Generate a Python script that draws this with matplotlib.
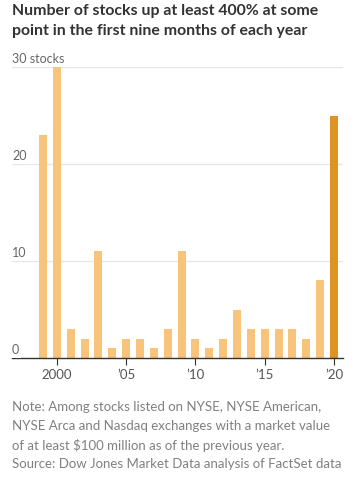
"""
Bar chart: number of stocks up at least 400% in the first nine months of each year.
"""

import numpy as np
import matplotlib.pyplot as plt
from matplotlib.transforms import blended_transform_factory

# Data
years = list(range(1999, 2021))
stocks = [23, 30, 3, 2, 11, 1, 2, 2, 1, 3, 11, 2, 1, 2, 5, 3, 3, 3, 3, 2, 8, 25]
xtick_years = [2000, 2005, 2010, 2015, 2020]
xtick_labels = ['2000', '\u201905', '\u201910', '\u201915', '\u201920']
ytick_values = [0, 10, 20, 30]
ytick_labels = ['0', '10', '20', '30 stocks']

title = "Number of stocks up at least 400% at some\npoint in the first nine months of each year"
note = ("Note: Among stocks listed on NYSE, NYSE American,\n"
        "NYSE Arca and Nasdaq exchanges with a market value\n"
        "of at least $100 million as of the previous year.\n"
        "Source: Dow Jones Market Data analysis of FactSet data")

LIGHT = '#F8C47C'
DARK = '#DE9421'

plt.rcParams['font.family'] = ['Lato', 'DejaVu Sans']

W, H = 364, 488
fig = plt.figure(figsize=(W / 100, H / 100), dpi=100)
ax = fig.add_axes([12 / W, (H - 358) / H, (343 - 12) / W, (358 - 67) / H])

colors = [DARK if y == 2020 else LIGHT for y in years]
ax.bar(years, stocks, width=0.58, color=colors, zorder=2)

ax.set_xlim(1996.76, 2020.65)
ax.set_ylim(0, 30)

# gridlines and y labels sitting on them
trans = blended_transform_factory(ax.transAxes, ax.transData)
for v, lab in zip(ytick_values, ytick_labels):
    if v > 0:
        ax.axhline(v, color='#E6E6E6', lw=0.9, zorder=1)
    ax.text(0, v + 0.25, lab, transform=trans, ha='left', va='bottom',
            fontsize=9, color='#666666', zorder=3,
            bbox=dict(facecolor='white', edgecolor='none', pad=1.5))

for s in ['top', 'right', 'left']:
    ax.spines[s].set_visible(False)
ax.spines['bottom'].set_color('#333333')
ax.spines['bottom'].set_linewidth(1.0)
ax.set_yticks([])
ax.set_xticks(xtick_years)
ax.set_xticklabels(xtick_labels)
ax.tick_params(axis='x', length=5, width=0.8, color='#333333',
               labelsize=9.5, labelcolor='#555555', pad=3)

fig.text(12 / W, 1 - 4 / H, title, ha='left', va='top', fontsize=11.4,
         fontweight='bold', color='#333333', linespacing=1.52)
fig.text(12 / W, 1 - 401 / H, note, ha='left', va='top', fontsize=9.5,
         color='#808080', linespacing=1.65)

fig.savefig('out.png', dpi=100)
